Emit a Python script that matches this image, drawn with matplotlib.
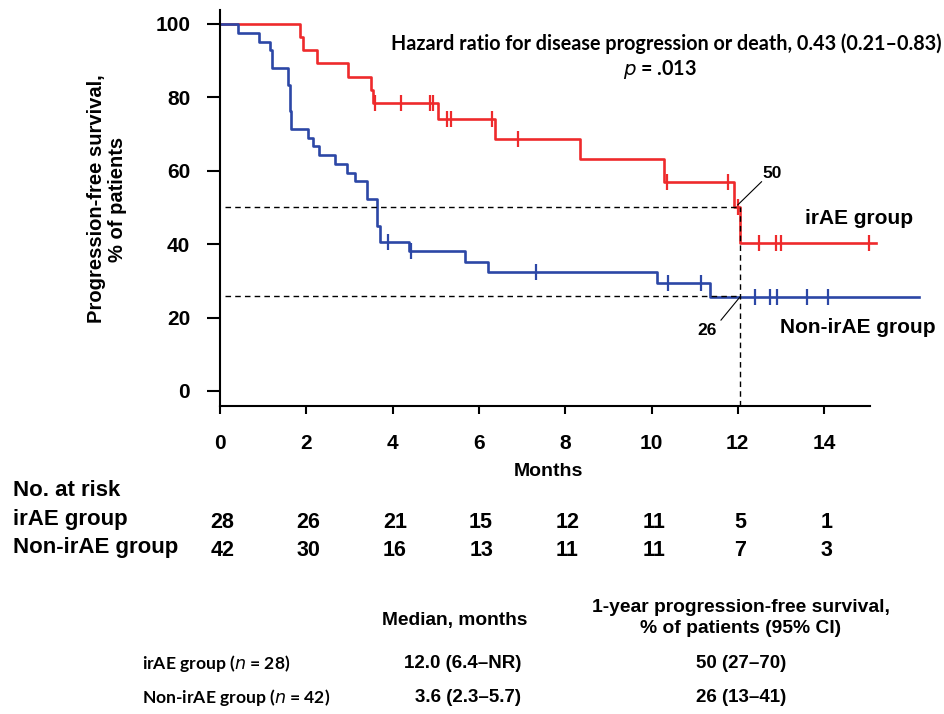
import numpy as np
import matplotlib
matplotlib.use("Agg")
import matplotlib.pyplot as plt
import matplotlib.transforms as mtransforms

# --- datos ---
meses_ticks = [0, 2, 4, 6, 8, 10, 12, 14]
y_ticks = [0, 20, 40, 60, 80, 100]

# grupo irAE (rojo)
irae_t = [0, 1.85, 1.92, 2.24, 2.97, 3.49, 3.55, 5.06, 6.37, 8.34, 10.30, 11.91, 12.05, 15.2]
irae_s = [100, 96.4, 92.9, 89.3, 85.6, 82.0, 78.4, 74.1, 68.6, 63.1, 57.0, 50.2, 40.4, 40.4]
irae_cens = [3.58, 4.19, 4.87, 4.93, 5.27, 5.35, 6.30, 6.91, 10.35, 11.78, 12.0, 12.5, 12.88, 12.99, 15.05]

# grupo no irAE (azul)
noirae_t = [0, 0.42, 0.91, 1.16, 1.20, 1.58, 1.62, 1.65, 2.05, 2.16, 2.30, 2.66, 2.94, 3.13,
            3.40, 3.63, 3.71, 4.39, 5.68, 6.22, 10.12, 11.36, 16.2]
noirae_s = [100, 97.6, 95.2, 92.9, 88.1, 83.3, 76.2, 71.4, 69.0, 66.7, 64.3, 61.9, 59.5, 57.1,
            52.4, 45.0, 40.5, 38.0, 35.2, 32.5, 29.5, 25.7, 25.7]
noirae_cens = [3.89, 4.42, 7.32, 10.39, 11.14, 12.41, 12.75, 12.90, 13.6, 14.08]

riesgo_irae = [28, 26, 21, 15, 12, 11, 5, 1]
riesgo_noirae = [42, 30, 16, 13, 11, 11, 7, 3]

mediana_pfs = 50
pfs_1a = 26

filas_tabla = ["irAE group ($\\mathit{n}$ = 28)", "Non-irAE group ($\\mathit{n}$ = 42)"]
medianas = ["12.0 (6.4\u2013NR)", "3.6 (2.3\u20135.7)"]
pfs_anio = ["50 (27\u201370)", "26 (13\u201341)"]

ROJO = "#ee2a2c"
AZUL = "#2c47a6"
ARIAL = ["Liberation Sans", "DejaVu Sans"]
CALIBRI = ["Lato", "DejaVu Sans"]


def valor_en(t_arr, s_arr, t):
    i = np.searchsorted(t_arr, t, side="right") - 1
    return s_arr[i]


fig = plt.figure(figsize=(9.44, 7.14), dpi=100)
ax = fig.add_axes([0.2331, 0.4314, 0.745, 0.5546])

ax.step(irae_t, irae_s, where="post", color=ROJO, lw=1.9)
ax.step(noirae_t, noirae_s, where="post", color=AZUL, lw=1.9)
ax.plot(irae_cens, [valor_en(irae_t, irae_s, t) for t in irae_cens], ls="none",
        marker="|", ms=11, mew=1.6, color=ROJO)
ax.plot(noirae_cens, [valor_en(noirae_t, noirae_s, t) for t in noirae_cens], ls="none",
        marker="|", ms=11, mew=1.6, color=AZUL)

# lineas de referencia a 12 meses
ax.plot([0.12, 12.05], [mediana_pfs, mediana_pfs], color="k", lw=1, dashes=(4, 3))
ax.plot([0.12, 12.05], [pfs_1a, pfs_1a], color="k", lw=1, dashes=(4, 3))
ax.plot([12.05, 12.05], [-4.1, mediana_pfs], color="k", lw=1, dashes=(4, 3))

ax.plot([12.0, 12.55], [50.7, 57.0], color="k", lw=0.8)
ax.text(12.58, 59.3, "50", fontsize=12.5, fontweight="bold", family=ARIAL, va="center", ha="left")
ax.plot([12.05, 11.61], [25.6, 19.3], color="k", lw=0.8)
ax.text(11.52, 16.6, "26", fontsize=12.5, fontweight="bold", family=ARIAL, va="center", ha="right")

ax.text(14.8, 47.1, "irAE group", fontsize=15, fontweight="bold", family=ARIAL, ha="center", va="center")
ax.text(14.79, 17.4, "Non-irAE group", fontsize=15, fontweight="bold", family=ARIAL, ha="center", va="center")

ax.text(10.34, 94.5, "Hazard ratio for disease progression or death, 0.43 (0.21\u20130.83)",
        fontsize=14.2, fontweight="bold", family=CALIBRI, ha="center", va="center")
ax.text(10.2, 87.5, "$\\mathit{p}$ = .013", fontsize=14.2, fontweight="bold", family=CALIBRI,
        ha="center", va="center")

ax.set_xlim(0, 16.3)
ax.set_ylim(-4.1, 103.8)
ax.set_xticks(meses_ticks)
ax.set_yticks(y_ticks)
for s in ["top", "right"]:
    ax.spines[s].set_visible(False)
ax.spines["bottom"].set_bounds(0, 15.06)
ax.spines["left"].set_linewidth(1.5)
ax.spines["bottom"].set_linewidth(1.5)
ax.tick_params(axis="x", direction="out", length=6, width=1.5, labelsize=15, pad=14)
ax.tick_params(axis="y", direction="out", length=9.5, width=1.5, labelsize=15, pad=12)
for lab in ax.get_xticklabels() + ax.get_yticklabels():
    lab.set_fontweight("bold")
    lab.set_family(ARIAL)

fig.text(0.113, 1 - 199 / 714, "Progression-free survival,\n% of patients", rotation=90, ha="center",
         va="center", fontsize=14.5, fontweight="bold", family=ARIAL, linespacing=1.15)
fig.text(548 / 944, 1 - 471 / 714, "Months", ha="center", va="center", fontsize=14,
         fontweight="bold", family=ARIAL)

# tabla de pacientes en riesgo
trans = mtransforms.blended_transform_factory(ax.transData, fig.transFigure)
fig.text(13 / 944, 1 - 491 / 714, "No. at risk", fontsize=16, family=ARIAL, fontweight="bold", va="center")
fig.text(13 / 944, 1 - 520 / 714, "irAE group", fontsize=16, family=ARIAL, fontweight="bold", va="center")
fig.text(13 / 944, 1 - 548 / 714, "Non-irAE group", fontsize=16, family=ARIAL, fontweight="bold", va="center")
for m, a, b in zip(meses_ticks, riesgo_irae, riesgo_noirae):
    ax.text(m + 0.05, 1 - 522 / 714, str(a), transform=trans, ha="center", va="center",
            fontsize=15.5, family=ARIAL, fontweight="bold")
    ax.text(m + 0.05, 1 - 550 / 714, str(b), transform=trans, ha="center", va="center",
            fontsize=15.5, family=ARIAL, fontweight="bold")

# tabla inferior
fig.text(455 / 944, 1 - 620 / 714, "Median, months", ha="center", va="center", fontsize=13.8,
         family=ARIAL, fontweight="bold")
fig.text(741 / 944, 1 - 618 / 714, "1-year progression-free survival,\n% of patients (95% CI)",
         ha="center", va="center", fontsize=13.9, family=ARIAL, fontweight="bold", linespacing=1.25)
for i, (f, med, pf) in enumerate(zip(filas_tabla, medianas, pfs_anio)):
    y = 1 - (663 + 35 * i) / 714
    fig.text(142 / 944, y, f, ha="left", va="center", fontsize=12.6, family=CALIBRI, fontweight="bold")
    fig.text(521 / 944, y, med, ha="right", va="center", fontsize=13.5, family=ARIAL, fontweight="bold")
    fig.text(741 / 944, y, pf, ha="center", va="center", fontsize=13.5, family=ARIAL, fontweight="bold")

fig.savefig("out.png", dpi=100)
